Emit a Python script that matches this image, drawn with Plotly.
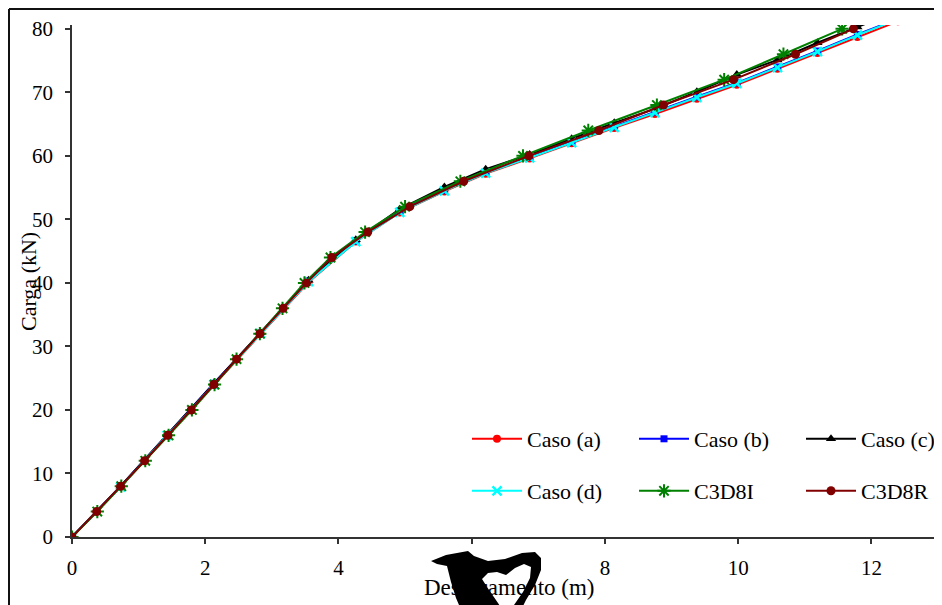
import plotly.graph_objects as go

# ---- data ----
caso_x = [0, 0.73, 1.43, 2.13, 2.83, 3.55, 4.26, 4.92, 5.59, 6.21, 6.87, 7.50, 8.14, 8.75, 9.38, 9.98, 10.59, 11.19, 11.79, 12.40]
caso_a_y = [0, 7.9, 16.0, 24.0, 32.0, 40.1, 46.5, 51.1, 54.4, 57.2, 59.6, 62.0, 64.4, 66.6, 69.0, 71.2, 73.7, 76.2, 78.7, 81.2]
caso_b_y = [0, 8.0, 16.1, 24.2, 32.1, 40.3, 46.6, 51.3, 54.6, 57.4, 59.8, 62.2, 64.6, 66.9, 69.3, 71.5, 74.0, 76.5, 79.1, 81.6]
caso_c_y = [0, 8.0, 16.1, 24.2, 32.2, 40.4, 46.8, 51.6, 55.1, 57.9, 60.2, 62.7, 65.2, 67.4, 70.1, 72.8, 75.1, 77.8, 80.3, 82.8]
caso_d_y = [0, 7.9, 16.0, 24.0, 32.0, 40.2, 46.5, 51.1, 54.5, 57.3, 59.7, 62.1, 64.5, 66.8, 69.2, 71.4, 73.9, 76.4, 79.0, 81.5]

c3d_y = [0, 4, 8, 12, 16, 20, 24, 28, 32, 36, 40, 44, 48, 52, 56, 60, 64, 68, 72, 76, 80]
c3d8i_x = [0, 0.38, 0.74, 1.10, 1.45, 1.80, 2.14, 2.47, 2.82, 3.16, 3.49, 3.88, 4.40, 5.00, 5.83, 6.77, 7.75, 8.78, 9.79, 10.68, 11.56]
c3d8r_x = [0, 0.37, 0.73, 1.09, 1.44, 1.79, 2.13, 2.47, 2.82, 3.17, 3.52, 3.90, 4.44, 5.07, 5.88, 6.86, 7.91, 8.88, 9.93, 10.86, 11.73]

x_ticks = [0, 2, 4, 6, 8, 10, 12]
y_ticks = [0, 10, 20, 30, 40, 50, 60, 70, 80]

FONT = "Liberation Serif"

fig = go.Figure()

def add(name, x, y, color, symbol, size, legend, mline=0):
    fig.add_trace(go.Scatter(
        x=x, y=y, name=name, mode="lines+markers",
        line=dict(color=color, width=2),
        marker=dict(symbol=symbol, size=size, color=color,
                    line=dict(color=color, width=mline)),
        legend=legend,
    ))

add("Caso (a)", caso_x, caso_a_y, "#FF0000", "circle", 8, "legend")
add("Caso (b)", caso_x, caso_b_y, "#0000FF", "square", 7, "legend")
add("Caso (c)", caso_x, caso_c_y, "#000000", "triangle-up", 9, "legend")
add("Caso (d)", caso_x, caso_d_y, "#00FFFF", "x-thin", 9, "legend2", mline=2.5)
add("C3D8I", c3d8i_x, c3d_y, "#008000", "asterisk", 11, "legend2", mline=2)
add("C3D8R", c3d8r_x, c3d_y, "#800000", "circle", 9, "legend2")

# page body adds an 8px offset; work in screen pixels
OFF = 8
SX0, SY0 = 72, 537          # screen position of the axes origin
PW, PH = 866, 512           # plot area size
W, H = 942, 605
L = SX0 - OFF
T = SY0 - PH - OFF
R = W - L - PW
B = H - T - PH

def px2paper(sx, sy):
    return (sx - SX0) / PW, (SY0 - sy) / PH

# outer chart-area frame (cropped at right/bottom)
fx0, fy0 = px2paper(9, 9)
fx1, fy1 = px2paper(960, 620)
shapes = [
    dict(type="line", xref="paper", yref="paper", x0=fx0, y0=fy0, x1=fx1, y1=fy0,
         line=dict(color="#111", width=2)),
    dict(type="line", xref="paper", yref="paper", x0=fx0, y0=fy0, x1=fx0, y1=fy1,
         line=dict(color="#111", width=2)),
]

# stray black glyph over the x title (screen-pixel outline)
outer = [(431, 561), (446, 555), (468, 551), (474, 556), (488, 561), (505, 559), (522, 553),
         (535, 552), (541, 558), (541, 570), (535, 585), (526, 600), (520, 612), (462, 612),
         (456, 598), (451, 582), (447, 566), (437, 564)]
hole = [(482, 579), (488, 573), (497, 572), (506, 575), (515, 568), (524, 564), (531, 567),
        (530, 578), (523, 592), (514, 605), (505, 614), (498, 603), (489, 590)]

def path_of(pts):
    s = ""
    for i, (sx, sy) in enumerate(pts):
        s += ("M" if i == 0 else "L") + f"{sx - SX0},{SY0 - sy} "
    return s + "Z "

shapes.append(dict(type="path", xref="paper", yref="paper", xsizemode="pixel", ysizemode="pixel",
                   xanchor=0, yanchor=0, path=path_of(outer) + path_of(hole),
                   fillcolor="black", fillrule="evenodd", line=dict(width=0), layer="above"))

ytx, yty = px2paper(28, 282)
xtx, xty = px2paper(509, 587)
annotations = [
    dict(text="Carga (kN)", xref="paper", yref="paper", x=ytx, y=yty, textangle=-90,
         showarrow=False, xanchor="center", yanchor="middle",
         font=dict(family=FONT, size=22, color="black")),
    dict(text="Deslocamento (m)", xref="paper", yref="paper", x=xtx, y=xty,
         showarrow=False, xanchor="center", yanchor="middle",
         font=dict(family=FONT, size=23, color="black")),
]

lx, ly1 = px2paper(467, 439)
_, ly2 = px2paper(467, 491)
legend_common = dict(orientation="h", xanchor="left", yanchor="middle", bgcolor="rgba(0,0,0,0)",
                     font=dict(family=FONT, size=22, color="black"), itemwidth=50,
                     entrywidth=102, entrywidthmode="pixels", borderwidth=0)

fig.update_layout(
    width=W, height=H,
    margin=dict(l=L, r=R, t=T, b=B, autoexpand=False),
    paper_bgcolor="white", plot_bgcolor="white",
    showlegend=True,
    legend=dict(x=lx, y=ly1, **legend_common),
    legend2=dict(x=lx, y=ly2, **legend_common),
    xaxis=dict(range=[0, 13], tickvals=x_ticks, ticktext=[str(v) for v in x_ticks],
               showgrid=False, zeroline=False, showline=True, linecolor="#333", linewidth=1.5,
               ticks="outside", ticklen=5, tickcolor="#333", tickwidth=1.5,
               ticklabelstandoff=6,
               tickfont=dict(family=FONT, size=21, color="black")),
    yaxis=dict(range=[0, 80.6], tickvals=y_ticks, ticktext=[str(v) for v in y_ticks],
               showgrid=False, zeroline=False, showline=True, linecolor="#333", linewidth=1.5,
               ticks="outside", ticklen=5, tickcolor="#333", tickwidth=1.5,
               ticklabelstandoff=8,
               tickfont=dict(family=FONT, size=21, color="black")),
    shapes=shapes,
    annotations=annotations,
)

fig.write_html("out.html")
